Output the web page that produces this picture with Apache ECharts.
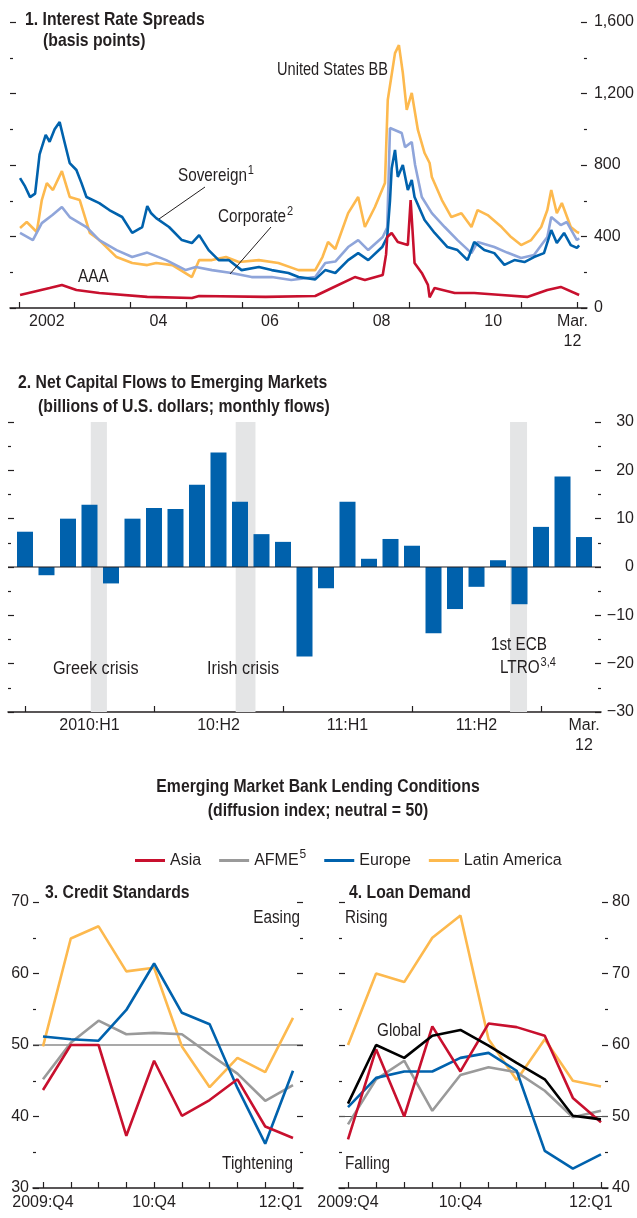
<!DOCTYPE html>
<html>
<head>
<meta charset="utf-8">
<script src="https://cdn.jsdelivr.net/npm/echarts@6/dist/echarts.min.js"></script>
<style>
  html, body { margin: 0; padding: 0; background: #fff; }
  #chart { width: 637px; height: 1218px; }
</style>
</head>
<body>
<div id="chart"></div>
<script>
// ---- panel 1: interest rate spreads (decimal year, basis points) ----
const usBB = [[2002.02,448],[2002.14,481],[2002.32,425],[2002.41,604],[2002.5,699],[2002.61,660],[2002.77,766],[2002.91,621],[2003.09,604],[2003.27,420],[2003.44,380],[2003.75,285],[2004.03,252],[2004.3,240],[2004.46,252],[2004.75,240],[2005.1,173],[2005.23,268],[2005.46,268],[2005.71,285],[2005.94,257],[2006.3,268],[2006.65,252],[2007.01,212],[2007.31,212],[2007.44,285],[2007.54,369],[2007.67,330],[2007.9,531],[2008.08,621],[2008.2,453],[2008.38,565],[2008.56,699],[2008.61,1164],[2008.74,1426],[2008.81,1471],[2008.88,1315],[2008.95,1108],[2009.04,1203],[2009.15,996],[2009.27,867],[2009.36,811],[2009.4,733],[2009.58,604],[2009.75,509],[2009.93,530],[2010.11,453],[2010.22,548],[2010.4,520],[2010.65,453],[2010.82,397],[2011.0,352],[2011.18,380],[2011.36,453],[2011.47,548],[2011.54,660],[2011.64,530],[2011.73,587],[2011.89,453],[2012.0,425],[2012.04,420]];
const corporate = [[2002.02,420],[2002.25,380],[2002.41,475],[2002.6,520],[2002.77,565],[2002.91,509],[2003.21,453],[2003.44,380],[2003.75,324],[2004.03,285],[2004.3,310],[2004.64,268],[2004.99,212],[2005.17,229],[2005.46,212],[2005.81,196],[2006.17,173],[2006.53,173],[2006.88,157],[2007.31,173],[2007.49,252],[2007.67,260],[2007.9,341],[2008.08,380],[2008.26,324],[2008.52,397],[2008.6,450],[2008.65,1007],[2008.86,979],[2008.92,900],[2009.04,929],[2009.1,800],[2009.22,621],[2009.4,531],[2009.63,453],[2009.86,380],[2010.11,307],[2010.22,369],[2010.52,341],[2010.75,310],[2011.0,280],[2011.23,296],[2011.47,397],[2011.54,509],[2011.71,464],[2011.82,481],[2012.0,380],[2012.04,390]];
const sovereign = [[2002.02,727],[2002.11,680],[2002.2,620],[2002.29,640],[2002.37,860],[2002.48,968],[2002.55,930],[2002.64,1000],[2002.73,1040],[2002.8,950],[2002.91,811],[2003.03,772],[2003.12,700],[2003.21,621],[2003.44,587],[2003.62,548],[2003.85,509],[2004.03,420],[2004.21,453],[2004.3,570],[2004.37,530],[2004.46,503],[2004.69,453],[2004.92,380],[2005.1,363],[2005.23,408],[2005.4,324],[2005.58,268],[2005.76,268],[2005.99,212],[2006.3,229],[2006.53,212],[2006.83,196],[2007.01,173],[2007.31,160],[2007.49,212],[2007.67,196],[2007.9,268],[2008.08,307],[2008.26,268],[2008.51,341],[2008.6,397],[2008.65,600],[2008.68,780],[2008.74,884],[2008.79,733],[2008.88,800],[2008.97,660],[2009.04,716],[2009.09,621],[2009.27,492],[2009.45,420],[2009.68,341],[2009.86,324],[2010.04,268],[2010.16,369],[2010.34,324],[2010.52,307],[2010.7,241],[2010.88,268],[2011.06,257],[2011.23,285],[2011.41,307],[2011.54,436],[2011.64,363],[2011.77,420],[2011.89,352],[2012.0,336],[2012.04,350]];
const aaa = [[2002.02,73],[2002.55,112],[2002.77,129],[2003.03,101],[2003.44,84],[2004.3,62],[2005.1,56],[2005.23,67],[2006.42,62],[2007.31,67],[2007.61,112],[2008.02,173],[2008.2,157],[2008.52,185],[2008.58,300],[2008.6,397],[2008.68,420],[2008.79,369],[2008.97,352],[2009.02,604],[2009.09,252],[2009.22,196],[2009.33,129],[2009.36,60],[2009.45,112],[2009.81,84],[2010.16,84],[2010.65,73],[2011.11,62],[2011.47,101],[2011.71,118],[2012.04,73]];
const p1YearTicks = [2002,2003,2004,2005,2006,2007,2008,2009,2010,2011,2012];
const p1Labels = {'2002.50':'2002','2004.50':'04','2006.50':'06','2008.50':'08','2010.50':'10','2011.92':'Mar.\n12'};

// ---- panel 2: net capital flows, Jan 2010 .. Mar 2012 ----
const months = ['2010-01','2010-02','2010-03','2010-04','2010-05','2010-06','2010-07','2010-08','2010-09','2010-10','2010-11','2010-12','2011-01','2011-02','2011-03','2011-04','2011-05','2011-06','2011-07','2011-08','2011-09','2011-10','2011-11','2011-12','2012-01','2012-02','2012-03'];
const flows = [7.3,-1.7,10.0,12.9,-3.4,10.0,12.2,12.0,17.0,23.7,13.5,6.8,5.2,-18.5,-4.4,13.5,1.7,5.8,4.4,-13.7,-8.7,-4.1,1.4,-7.7,8.3,18.7,6.2];
const p2Ticks = [0,6,12,18,24];
const p2Labels = {'3.00':'2010:H1','9.00':'10:H2','15.00':'11:H1','21.00':'11:H2','26.00':'Mar.\n12'};
const bands = [[3.06,3.81],[9.8,10.72],[22.56,23.35]];

// ---- panels 3 & 4: bank lending conditions ----
const quarters = ['2009:Q4','10:Q1','10:Q2','10:Q3','10:Q4','11:Q1','11:Q2','11:Q3','11:Q4','12:Q1'];
const credAsia   = [43.7,50,50,37.3,47.8,40.1,42.3,45.2,38.6,37.0];
const credAfme   = [45.2,50.3,53.4,51.5,51.7,51.5,48.7,46.0,42.2,44.4];
const credEurope = [51.2,50.8,50.6,54.9,61.4,54.5,52.9,44.0,36.2,46.4];
const credLatam  = [49.8,64.9,66.6,60.3,60.8,49.8,44.1,48.2,46.2,53.8];
const loanAsia   = [46.8,59.4,50,62.6,56.3,63.0,62.5,61.3,52.6,49.2];
const loanAfme   = [48.9,55.2,57.8,50.8,55.8,56.9,56.2,53.6,49.9,50.8];
const loanEurope = [51.3,55.4,56.3,56.3,58.2,58.9,56.4,45.2,42.7,44.7];
const loanLatam  = [60.0,70.0,68.8,75.0,78.1,60.8,55.1,60.8,55.0,54.2];
const loanGlobal = [51.8,60.0,58.2,61.3,62.1,59.9,57.5,55.2,50.1,49.6];
const qLabels3 = {'0.00':'2009:Q4','4.00':'10:Q4','8.55':'12:Q1'};
const qLabels4 = {'0.00':'2009:Q4','4.00':'10:Q4','8.64':'12:Q1'};

const FONT = "'Liberation Sans', Arial, sans-serif";
const INK = '#231F20';
const C = { dblue: '#0062AD', lblue: '#8FA5DA', orange: '#FDB94E', red: '#C8102E', gray: '#9A9A9A', bar: '#0061AC', band: '#E4E5E6' };

const tick = { show: true, inside: true, length: 6, lineStyle: { color: INK, width: 1.2 } };
const minor = { show: true, splitNumber: 2, length: 3, lineStyle: { color: INK, width: 1.2 } };
const lab = { color: INK, fontFamily: FONT, fontSize: 16 };

function yAx(grid, pos, min, max, interval, label) {
  return {
    type: 'value', gridIndex: grid, position: pos, min: min, max: max, interval: interval,
    axisLine: { show: false, onZero: false }, splitLine: { show: false },
    axisTick: tick, minorTick: minor,
    axisLabel: label ? Object.assign({}, lab, label) : { show: false }
  };
}
function xAx(grid, min, max, ticks, labels, margin) {
  return {
    type: 'value', gridIndex: grid, min: min, max: max,
    splitLine: { show: false },
    axisLine: { show: true, onZero: false, lineStyle: { color: INK, width: 1.5 } },
    axisTick: Object.assign({}, tick, { customValues: ticks }),
    axisLabel: Object.assign({}, lab, {
      customValues: Object.keys(labels).map(Number), margin: margin, lineHeight: 20,
      formatter: v => labels[v.toFixed(2)] || ''
    })
  };
}
// annotation text, squeezed horizontally to match the condensed original face
function txt(x, y, text, o) {
  o = o || {};
  return {
    type: 'text', x: x, y: y, z: 50, silent: true, scaleX: o.sx || (o.bold ? 0.83 : 0.85),
    style: {
      text: text, fill: INK, fontFamily: FONT, fontSize: o.bold ? 19 : 18, fontWeight: o.bold ? 'bold' : 'normal',
      textAlign: o.align || 'left', align: o.align || 'left', textVerticalAlign: 'middle', verticalAlign: 'middle',
      rich: o.rich
    }
  };
}
const supRich = {
  a: { fontFamily: FONT, fontSize: 18, fill: INK },
  s: { fontFamily: FONT, fontSize: 13, fill: INK, padding: [0, 0, 11, 1] }
};
function ln(x1, y1, x2, y2) {
  return { type: 'line', z: 50, silent: true, shape: { x1: x1, y1: y1, x2: x2, y2: y2 }, style: { stroke: INK, lineWidth: 1 } };
}
const idx = quarters.map((q, i) => i);
const pairs = arr => arr.map((v, i) => [idx[i], v]);
function qLine(name, color, data, xi, yi) {
  return { name: name, type: 'line', xAxisIndex: xi, yAxisIndex: yi, data: pairs(data), showSymbol: false, z: 3,
    lineStyle: { color: color, width: 2.6 }, itemStyle: { color: color } };
}
function spread(name, color, data) {
  return { name: name, type: 'line', xAxisIndex: 0, yAxisIndex: 0, data: data, showSymbol: false,
    lineStyle: { color: color, width: 2.6 }, itemStyle: { color: color } };
}

const chart = echarts.init(document.getElementById('chart'));
chart.setOption({
  animation: false,
  backgroundColor: '#fff',
  textStyle: { fontFamily: FONT },
  grid: [
    { left: 10, right: 47, top: 22, bottom: 910 },
    { left: 8, right: 35, top: 422, bottom: 506 },
    { left: 33, right: 334, top: 902, bottom: 30 },
    { left: 339, right: 29, top: 902, bottom: 30 }
  ],
  xAxis: [
    xAx(0, 2001.84, 2012.18, p1YearTicks, p1Labels, 4),
    xAx(1, -0.79, 26.79, p2Ticks, p2Labels, 4),
    xAx(2, -0.36, 9.36, idx, qLabels3, 5),
    xAx(3, -0.32, 9.25, idx, qLabels4, 5)
  ],
  yAxis: [
    yAx(0, 'right', 0, 1600, 400, { margin: 7, align: 'left', formatter: v => v.toLocaleString('en-US') }),
    yAx(0, 'left', 0, 1600, 400, null),
    yAx(1, 'right', -30, 30, 10, { margin: 33, align: 'right', formatter: v => v < 0 ? '\u2212' + (-v) : String(v) }),
    yAx(1, 'left', -30, 30, 10, null),
    yAx(2, 'left', 30, 70, 10, { margin: 4, align: 'right' }),
    yAx(2, 'right', 30, 70, 10, null),
    yAx(3, 'left', 40, 80, 10, null),
    yAx(3, 'right', 40, 80, 10, { margin: 4, align: 'left' })
  ],
  legend: {
    data: ['Asia', 'AFME', 'Europe', 'Latin America'],
    left: 130, top: 844, icon: 'rect', itemWidth: 30, itemHeight: 3, itemGap: 18,
    selectedMode: false,
    formatter: n => n === 'AFME' ? '{t|AFME}{s|5}' : '{t|' + n + '}',
    textStyle: { color: INK, rich: {
      t: { fontFamily: FONT, fontSize: 16, color: INK },
      s: { fontFamily: FONT, fontSize: 12, color: INK, padding: [0, 0, 11, 1] }
    } }
  },
  series: [
    spread('United States BB', C.orange, usBB),
    spread('Corporate', C.lblue, corporate),
    spread('Sovereign', C.dblue, sovereign),
    spread('AAA', C.red, aaa),

    { name: 'bands', type: 'line', xAxisIndex: 1, yAxisIndex: 2, z: 1, silent: true, showSymbol: false,
      data: [[-0.79, 0], [26.79, 0]], lineStyle: { opacity: 0 },
      markArea: { silent: true, itemStyle: { color: C.band }, data: bands.map(b => [{ xAxis: b[0] }, { xAxis: b[1] }]) } },
    { name: 'flows', type: 'bar', xAxisIndex: 1, yAxisIndex: 2, z: 2, barWidth: 16,
      data: flows.map((v, i) => [i, v]), itemStyle: { color: C.bar } },
    { name: 'zero', type: 'line', xAxisIndex: 1, yAxisIndex: 2, z: 3, silent: true, showSymbol: false,
      data: [[-0.79, 0], [26.79, 0]], lineStyle: { color: INK, width: 1.2 } },

    { name: 'n3', type: 'line', xAxisIndex: 2, yAxisIndex: 4, z: 1, silent: true, showSymbol: false,
      data: [[-0.36, 50], [9.36, 50]], lineStyle: { color: '#555', width: 1.2 } },
    qLine('Latin America', C.orange, credLatam, 2, 4),
    qLine('AFME', C.gray, credAfme, 2, 4),
    qLine('Europe', C.dblue, credEurope, 2, 4),
    qLine('Asia', C.red, credAsia, 2, 4),

    { name: 'n4', type: 'line', xAxisIndex: 3, yAxisIndex: 7, z: 1, silent: true, showSymbol: false,
      data: [[-0.32, 50], [9.25, 50]], lineStyle: { color: '#555', width: 1.2 } },
    qLine('Latin America', C.orange, loanLatam, 3, 7),
    qLine('AFME', C.gray, loanAfme, 3, 7),
    qLine('Europe', C.dblue, loanEurope, 3, 7),
    qLine('Asia', C.red, loanAsia, 3, 7),
    qLine('Global', '#000', loanGlobal, 3, 7)
  ],
  graphic: [
    txt(25, 20, '1. Interest Rate Spreads', { bold: true }),
    txt(43, 41, '(basis points)', { bold: true }),
    txt(277, 70, 'United States BB', { sx: 0.81 }),
    txt(178, 176, '{a|Sovereign}{s|1}', { rich: supRich }),
    txt(218, 217, '{a|Corporate}{s|2}', { rich: supRich }),
    txt(78, 277, 'AAA'),
    ln(205, 187, 159, 219),
    ln(271, 227, 230, 274),

    txt(18, 383, '2. Net Capital Flows to Emerging Markets', { bold: true }),
    txt(38, 407, '(billions of U.S. dollars; monthly flows)', { bold: true }),
    txt(53, 669, 'Greek crisis', { sx: 0.9 }),
    txt(207, 669, 'Irish crisis', { sx: 0.9 }),
    txt(519, 645, '1st ECB', { align: 'center' }),
    txt(500, 668, '{a|LTRO}{s|3,4}', { rich: supRich }),

    txt(318, 787, 'Emerging Market Bank Lending Conditions', { bold: true, align: 'center' }),
    txt(318, 811, '(diffusion index; neutral = 50)', { bold: true, align: 'center' }),
    txt(45, 893, '3. Credit Standards', { bold: true }),
    txt(300, 918, 'Easing', { align: 'right' }),
    txt(293, 1164, 'Tightening', { align: 'right' }),
    txt(349, 893, '4. Loan Demand', { bold: true }),
    txt(345, 918, 'Rising'),
    txt(377, 1031, 'Global'),
    txt(345, 1164, 'Falling')
  ]
});
</script>
</body>
</html>
